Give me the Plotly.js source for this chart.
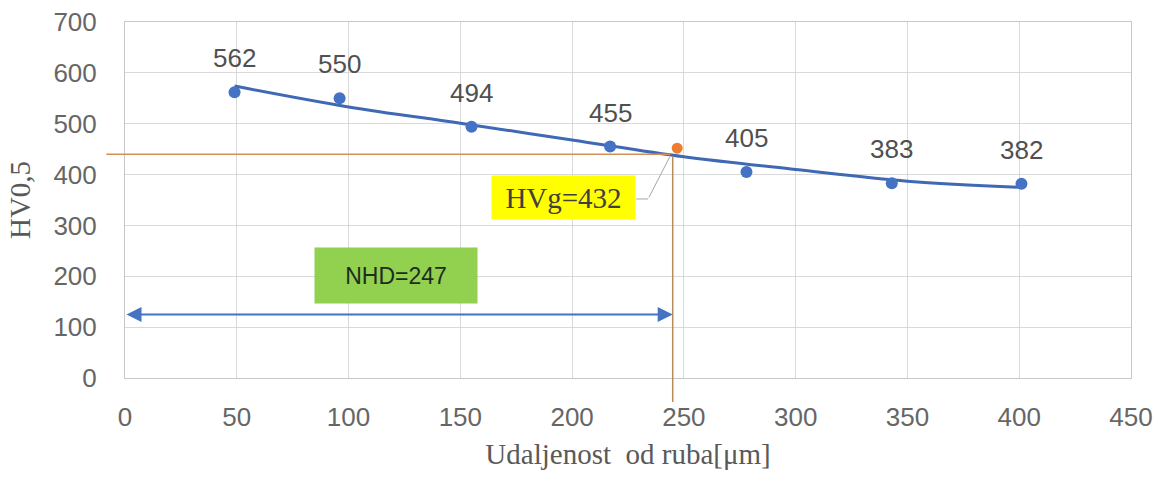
<!DOCTYPE html>
<html>
<head>
<meta charset="utf-8">
<script src="https://cdn.plot.ly/plotly-3.0.1.min.js"></script>
<style>html,body{margin:0;padding:0;background:#fff;}#chart{width:1164px;height:479px;}</style>
</head>
<body>
<div id="chart"></div>
<script>
// Measured hardness points
const distance = [49, 96, 155, 217, 278, 343, 401];
const hardness = [562, 550, 494, 455, 405, 383, 382];
const pointLabels = ['562', '550', '494', '455', '405', '383', '382'];

// Trend line
const trendX = [49, 100, 150, 200, 250, 300, 350, 401];
const trendY = [574, 533, 501, 468, 435, 410, 387, 375];

// Limit hardness point (orange)
const limitX = [247];
const limitY = [452];

// Guide values
const hvgLevel = 440;      // horizontal orange guide
const nhdDepth = 245;      // vertical orange guide / arrow end
const crossY = 436;        // where guides meet the trend
const arrowLevel = 125;    // double arrow height
const nhdText = 'NHD=247';
const hvgText = 'HVg=432';

const xTicks = [0, 50, 100, 150, 200, 250, 300, 350, 400, 450];
const yTicks = [0, 100, 200, 300, 400, 500, 600, 700];

const sans = 'Liberation Sans, Arial, sans-serif';
const serif = 'Liberation Serif, Times New Roman, serif';

const traces = [
  {
    x: trendX, y: trendY, type: 'scatter', mode: 'lines',
    line: {color: '#3F68B5', width: 3, shape: 'spline'},
    hoverinfo: 'skip', showlegend: false
  },
  {
    x: distance, y: hardness, type: 'scatter', mode: 'markers',
    marker: {color: '#4472C4', size: 12},
    showlegend: false
  },
  {
    x: limitX, y: limitY, type: 'scatter', mode: 'markers',
    marker: {color: '#ED7D31', size: 11},
    showlegend: false
  }
];

const annotations = distance.map((d, i) => ({
  x: d, y: hardness[i], xref: 'x', yref: 'y',
  text: pointLabels[i], showarrow: false, yshift: 34,
  font: {family: sans, size: 26, color: '#505050'}
}));

// horizontal orange guide (extends left past the axis)
annotations.push({
  x: nhdDepth - 1, y: hvgLevel, ax: -9, ay: hvgLevel,
  xref: 'x', yref: 'y', axref: 'x', ayref: 'y',
  text: '', showarrow: true, arrowhead: 0, arrowwidth: 1.5, arrowcolor: '#D39055'
});
// vertical orange guide (extends below the axis)
annotations.push({
  x: nhdDepth, y: crossY, ax: nhdDepth, ay: -50,
  xref: 'x', yref: 'y', axref: 'x', ayref: 'y',
  text: '', showarrow: true, arrowhead: 0, arrowwidth: 1.5, arrowcolor: '#B88A5E'
});
// double arrow NHD
annotations.push({
  x: nhdDepth, y: arrowLevel, ax: 0, ay: arrowLevel,
  xref: 'x', yref: 'y', axref: 'x', ayref: 'y',
  text: '', showarrow: true, arrowside: 'end+start',
  arrowhead: 2, startarrowhead: 2, arrowsize: 1.5, startarrowsize: 1.5,
  arrowwidth: 2, arrowcolor: '#4472C4', standoff: 0, startstandoff: 0
});
// NHD label box
annotations.push({
  x: 121, y: 201, xref: 'x', yref: 'y',
  text: nhdText, showarrow: false,
  bgcolor: '#92D050', width: 154, height: 47, borderpad: 4,
  font: {family: sans, size: 23, color: '#1E2E1E'}
});
// HVg callout leader
annotations.push({
  x: 234, y: 352, ax: 228, ay: 352,
  xref: 'x', yref: 'y', axref: 'x', ayref: 'y',
  text: '', showarrow: true, arrowhead: 0, arrowwidth: 1, arrowcolor: '#A6A6A6'
});
annotations.push({
  x: 243.7, y: crossY - 1, ax: 234, ay: 352,
  xref: 'x', yref: 'y', axref: 'x', ayref: 'y',
  text: '', showarrow: true, arrowhead: 0, arrowwidth: 1, arrowcolor: '#A6A6A6'
});
// HVg label box
annotations.push({
  x: 196, y: 354, xref: 'x', yref: 'y',
  text: hvgText, showarrow: false,
  bgcolor: '#FFFF00', width: 135, height: 35, borderpad: 4,
  font: {family: serif, size: 29, color: '#404040'}
});

const layout = {
  width: 1164, height: 479,
  margin: {l: 125, r: 33, t: 22, b: 101},
  paper_bgcolor: '#ffffff', plot_bgcolor: '#ffffff',
  font: {family: sans, color: '#595959'},
  xaxis: {
    range: [0, 450], tickvals: xTicks, ticktext: xTicks.map(String),
    showgrid: true, gridcolor: '#D9D9D9', gridwidth: 1,
    zeroline: false, showline: true, linecolor: '#C8C8C8', linewidth: 1, mirror: true,
    ticks: '', ticklabelstandoff: 16,
    tickfont: {family: sans, size: 26, color: '#666666'},
    title: {text: 'Udaljenost  od ruba[μm]', font: {family: serif, size: 29, color: '#595959'}, standoff: 12}
  },
  yaxis: {
    range: [0, 700], tickvals: yTicks, ticktext: yTicks.map(String),
    showgrid: true, gridcolor: '#D9D9D9', gridwidth: 1,
    zeroline: false, showline: true, linecolor: '#C8C8C8', linewidth: 1, mirror: true,
    ticks: '', ticklabelstandoff: 22,
    tickfont: {family: sans, size: 26, color: '#666666'},
    title: {text: 'HV0,5', font: {family: serif, size: 29, color: '#595959'}, standoff: 14}
  },
  annotations: annotations,
  showlegend: false
};

Plotly.newPlot('chart', traces, layout, {displayModeBar: false, staticPlot: true});
</script>
</body>
</html>
